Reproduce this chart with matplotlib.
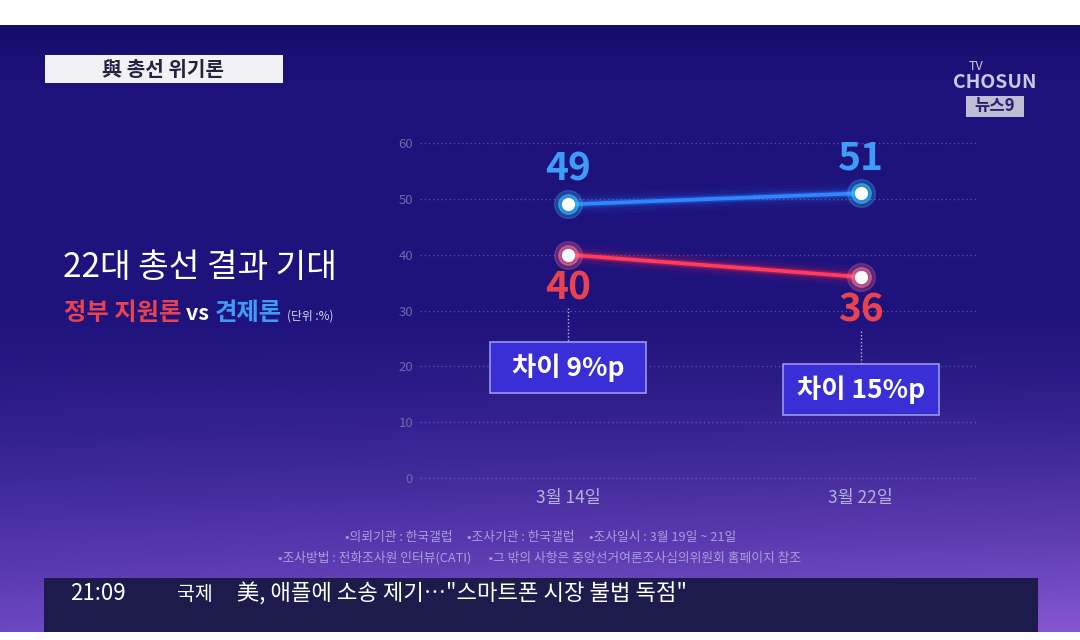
import numpy as np
import matplotlib
matplotlib.use('Agg')
import matplotlib.pyplot as plt
from matplotlib.patches import Rectangle

plt.rcParams['font.family'] = ['Noto Sans CJK KR', 'DejaVu Sans']

dates = ['3월 14일', '3월 22일']
support_gov = [40, 36]     # 정부 지원론
check_gov = [49, 51]       # 견제론
gaps = [9, 15]
yticks = [0, 10, 20, 30, 40, 50, 60]

header = '與 총선 위기론'
title = '22대 총선 결과 기대'
footer_1 = '•의뢰기관 : 한국갤럽     •조사기관 : 한국갤럽     •조사일시 : 3월 19일 ~ 21일'
footer_2 = '•조사방법 : 전화조사원 인터뷰(CATI)      •그 밖의 사항은 중앙선거여론조사심의위원회 홈페이지 참조'
ticker_time = '21:09'
ticker_cat = '국제'
ticker_text = '美, 애플에 소송 제기…"스마트폰 시장 불법 독점"'

blue = '#3f9cf6'
red = '#e8434f'

W, H = 1080, 640
fig = plt.figure(figsize=(10.8, 6.4), dpi=100)

# background layer in pixel coordinates
bg = fig.add_axes([0, 0, 1, 1])
bg.set_xlim(0, W)
bg.set_ylim(H, 0)
bg.axis('off')
bg.add_patch(Rectangle((0, 0), W, H, color='white', zorder=0))

top_c = np.array([22, 12, 106]) / 255
mid_c = np.array([30, 18, 124]) / 255
bot_c = np.array([108, 72, 194]) / 255
t = np.linspace(0, 1, 300)[:, None]
k = np.clip((t - 0.45) / 0.55, 0, 1) ** 1.4
col = (mid_c * (1 - k) + bot_c * k)
col = col * (t > 0.1) + (top_c * (1 - t / 0.1) + mid_c * (t / 0.1)) * (t <= 0.1)
xs = np.linspace(0, 1, 200)[None, :]
grad = col[:, None, :] * np.ones((1, 200, 1))
grad = grad + (xs[..., None] * k[..., None] * np.array([0.10, 0.06, 0.06]))
grad = np.clip(grad, 0, 1)
bg.imshow(grad, extent=(0, W, 632, 25), aspect='auto', zorder=1, interpolation='bilinear')

# header tag
bg.add_patch(Rectangle((45, 55), 238, 28, facecolor='#f2f2f6', edgecolor='none', zorder=2))
bg.text(163, 69.5, header, ha='center', va='center', fontsize=14.5, fontweight='bold',
        color='#23233f', zorder=3)

# channel logo
bg.text(976, 67, 'TV', ha='center', va='center', fontsize=9, color='#c9c9e2', zorder=3)
bg.text(995, 83, 'CHOSUN', ha='center', va='center', fontsize=14, fontweight='bold',
        color='#c9c9e2', zorder=3)
bg.add_patch(Rectangle((966, 96), 58, 21, facecolor='#bdbdd4', edgecolor='none', zorder=2))
bg.text(995, 106.5, '뉴스9', ha='center', va='center', fontsize=12, fontweight='bold',
        color='#2a1f6e', zorder=3)

# left title block
bg.text(63, 268, title, ha='left', va='center', fontsize=24, fontweight='medium',
        color='white', zorder=3)
x0 = 64
for s, c, fs in [('정부 지원론', red, 17.5), (' vs ', 'white', 15.5), ('견제론', blue, 17.5)]:
    tx = bg.text(x0, 313, s, ha='left', va='center', fontsize=fs, fontweight='bold', color=c, zorder=3)
    fig.canvas.draw()
    bb = tx.get_window_extent()
    x0 += bb.width
bg.text(x0 + 6, 316, '(단위 :%)', ha='left', va='center', fontsize=8.5, color='#d8d8ee', zorder=3)

# footer notes
bg.text(541, 537, footer_1, ha='center', va='center', fontsize=9.2, color='#a99fdc', zorder=3)
bg.text(540, 558, footer_2, ha='center', va='center', fontsize=9.2, color='#a99fdc', zorder=3)

# news ticker
bg.add_patch(Rectangle((44, 578), 994, 54, facecolor='#1d1a4c', edgecolor='none', zorder=2))
bg.text(70, 594, ticker_time, ha='left', va='center', fontsize=16, fontweight='medium',
        color='white', zorder=3)
bg.text(177, 594, ticker_cat, ha='left', va='center', fontsize=14, fontweight='medium',
        color='white', zorder=3)
bg.text(237, 594, ticker_text, ha='left', va='center', fontsize=16, fontweight='medium',
        color='white', zorder=3)

# chart
ax = fig.add_axes([420 / W, 1 - 478 / H, (978 - 420) / W, (478 - 143) / H])
ax.patch.set_alpha(0)
xpos = np.arange(len(dates))
ax.set_xlim(-0.505, 1.40)
ax.set_ylim(0, 60)
for s in ax.spines.values():
    s.set_visible(False)
ax.set_yticks(yticks)
ax.set_yticklabels([str(v) for v in yticks], fontsize=9.5, color='#6f6aa8')
ax.set_xticks(xpos)
ax.set_xticklabels(dates, fontsize=12.5, color='#b5b0dc')
ax.tick_params(length=0, pad=5)
ax.tick_params(axis='x', pad=8)
ax.grid(axis='y', color='#7e76c0', linestyle=(0, (1, 2)), linewidth=1, alpha=0.6)
for gl in ax.get_ygridlines():
    gl.set_clip_on(False)


def glow_line(y, core, glow, halo):
    for lw, a in [(16, 0.04), (11, 0.07), (7, 0.14), (4.5, 0.35)]:
        ax.plot(xpos, y, color=glow, lw=lw, alpha=a, solid_capstyle='round', zorder=3)
    ax.plot(xpos, y, color=core, lw=2.6, zorder=4)
    ax.plot(xpos, y, 'o', ms=20, color=halo, alpha=0.25, zorder=5)
    ax.plot(xpos, y, 'o', ms=14, color=halo, alpha=0.55, zorder=5)
    ax.plot(xpos, y, 'o', ms=8.5, color='white', zorder=6)


glow_line(check_gov, '#2f86ff', '#2a7cff', '#35c8ff')
glow_line(support_gov, '#ff3d5a', '#ff2850', '#ff7090')

for x, v in zip(xpos, check_gov):
    ax.text(x, v + 6.3, str(v), ha='center', va='center', fontsize=28, fontweight='bold', color=blue, zorder=7)
for x, v in zip(xpos, support_gov):
    ax.text(x, v - 6.0, str(v), ha='center', va='center', fontsize=28, fontweight='bold', color=red, zorder=7)

# gap callouts
for x, v, g in zip(xpos, support_gov, gaps):
    ax.plot([x, x], [v - 9.6, v - 16.0], color='#b8b4e0', lw=1, linestyle=(0, (1, 1.5)), zorder=3)
    ax.add_patch(Rectangle((x - 0.266, v - 20.2 - 4.55), 0.532, 9.1, facecolor='#3a2fd6',
                           edgecolor='#9a96f0', lw=1.2, zorder=7))
    ax.text(x, v - 20.2, f'차이 {g}%p', ha='center', va='center', fontsize=19,
            fontweight='bold', color='white', zorder=8)

fig.savefig('out.png', dpi=100)
